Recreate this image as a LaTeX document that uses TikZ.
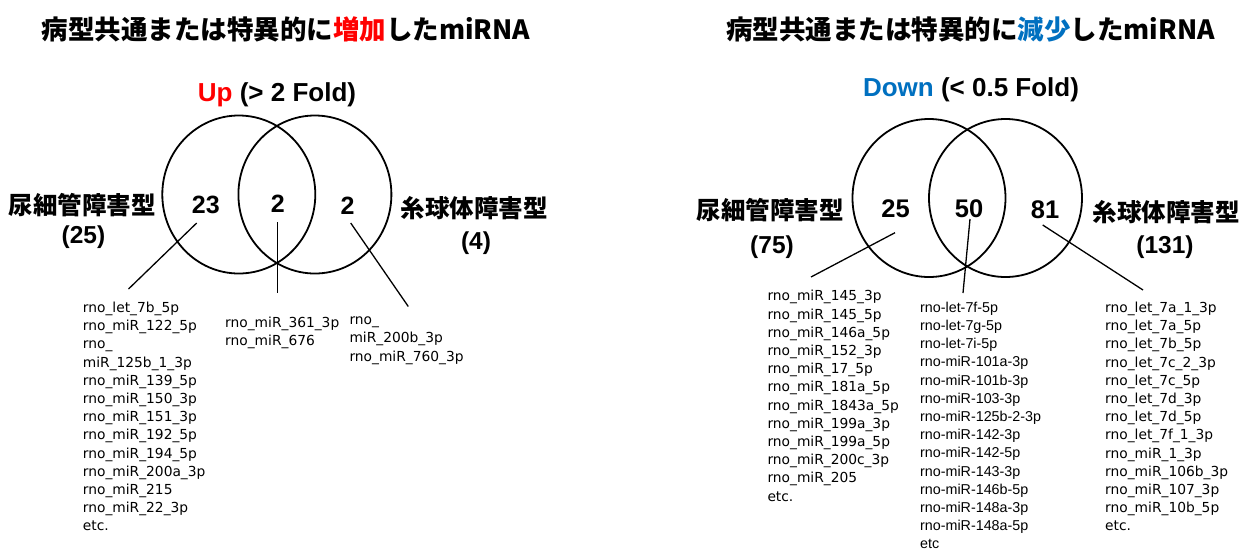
\documentclass[tikz,border=0pt]{standalone}
\usepackage{fontspec}
\setmainfont{Liberation Sans}
\newfontfamily\cjk{Noto Sans CJK JP}
\newfontfamily\lucida{DejaVu Sans}
\newfontfamily\arialf{Liberation Sans}
\definecolor{upred}{RGB}{255,0,0}
\definecolor{downblue}{RGB}{0,112,192}
\tikzset{
  titletext/.style={font=\cjk\bfseries\fontsize{26.5}{30}\selectfont, inner sep=0pt},
  grouplabel/.style={font=\cjk\bfseries\fontsize{24.5}{28}\selectfont, inner sep=0pt},
  parennum/.style={font=\bfseries\fontsize{24.5}{28}\selectfont, inner sep=0pt},
  foldtext/.style={font=\bfseries\fontsize{26}{30}\selectfont, inner sep=0pt},
  countnum/.style={font=\bfseries\fontsize{25}{30}\selectfont, inner sep=0pt},
  mirlist/.style={font=\lucida\fontsize{13.8}{18.2}\selectfont, align=left, anchor=north west, inner sep=0pt},
  mirlistb/.style={font=\arialf\fontsize{14.3}{18.2}\selectfont, align=left, anchor=north west, inner sep=0pt},
  venn/.style={line width=1.8pt},
  conn/.style={line width=1.3pt},
}
\begin{document}
\begin{tikzpicture}[x=1pt,y=-1pt]
\useasboundingbox (0,0) rectangle (1242,550);
\fill[white] (0,0) rectangle (1242,550);

% ---------- left panel ----------
\node[titletext] (titleL) at (286,29) {病型共通または特異的に{\color{upred}増加}したmiRNA};
\node[foldtext] (foldL) at (277,95) {{\color{upred}Up} (> 2 Fold)};

\coordinate (cLa) at (238.8,194.5);
\coordinate (cLb) at (314.9,194.5);
\draw[venn] (cLa) ellipse [x radius=76.5pt, y radius=79pt];
\draw[venn] (cLb) ellipse [x radius=76.5pt, y radius=79pt];

\node[countnum] (nL1) at (205.8,204.7) {23};
\node[countnum] (nL2) at (277.8,203.3) {2};
\node[countnum] (nL3) at (347.5,205.8) {2};

\node[grouplabel] (gL1) at (82.5,205) {尿細管障害型};
\node[parennum] (pL1) at (83.5,237) {(25)};
\node[grouplabel] (gL2) at (474,208) {糸球体障害型};
\node[parennum] (pL2) at (476,243) {(4)};

\coordinate (a1) at (196.7,223);
\coordinate (a1e) at (128.5,289);
\coordinate (a2) at (277.5,222);
\coordinate (a2e) at (277.5,293);
\coordinate (a3) at (350.7,223);
\coordinate (a3e) at (408.3,306.5);
\draw[conn] (a1) -- (a1e);
\draw[conn] (a2) -- (a2e);
\draw[conn] (a3) -- (a3e);

\node[mirlist] (listL1) at (82.7,301.8) {rno\_let\_7b\_5p\\
rno\_miR\_122\_5p\\
rno\_\\
miR\_125b\_1\_3p\\
rno\_miR\_139\_5p\\
rno\_miR\_150\_3p\\
rno\_miR\_151\_3p\\
rno\_miR\_192\_5p\\
rno\_miR\_194\_5p\\
rno\_miR\_200a\_3p\\
rno\_miR\_215\\
rno\_miR\_22\_3p\\
etc.};
\node[mirlist] (listL2) at (225,316.8) {rno\_miR\_361\_3p\\
rno\_miR\_676};
\node[mirlist] (listL3) at (349.3,316.8) {rno\_\\
miR\_200b\_3p\\
rno\_miR\_760\_3p};

% ---------- right panel ----------
\node[titletext] (titleR) at (970.5,29) {病型共通または特異的に{\color{downblue}減少}したmiRNA};
\node[foldtext] (foldR) at (971,90) {{\color{downblue}Down} (< 0.5 Fold)};

\coordinate (cRa) at (929,198);
\coordinate (cRb) at (1005.5,198);
\draw[venn] (cRa) ellipse [x radius=76.5pt, y radius=79pt];
\draw[venn] (cRb) ellipse [x radius=76.5pt, y radius=79pt];

\node[countnum, font=\bfseries\fontsize{25.5}{30}\selectfont] (nR1) at (895.5,209.2) {25};
\node[countnum, font=\bfseries\fontsize{25.5}{30}\selectfont] (nR2) at (969,209.2) {50};
\node[countnum, font=\bfseries\fontsize{25.5}{30}\selectfont] (nR3) at (1045,210) {81};

\node[grouplabel] (gR1) at (770,210) {尿細管障害型};
\node[parennum] (pR1) at (772,247) {(75)};
\node[grouplabel] (gR2) at (1166,212) {糸球体障害型};
\node[parennum] (pR2) at (1165,247) {(131)};

\coordinate (b1) at (895,232.7);
\coordinate (b1e) at (811,277);
\coordinate (b2) at (970,219);
\coordinate (b2e) at (963,293);
\coordinate (b3) at (1042.7,225);
\coordinate (b3e) at (1143,290);
\draw[conn] (b1) -- (b1e);
\draw[conn] (b2) -- (b2e);
\draw[conn] (b3) -- (b3e);

\node[mirlist] (listR1) at (767.3,290.2) {rno\_miR\_145\_3p\\
rno\_miR\_145\_5p\\
rno\_miR\_146a\_5p\\
rno\_miR\_152\_3p\\
rno\_miR\_17\_5p\\
rno\_miR\_181a\_5p\\
rno\_miR\_1843a\_5p\\
rno\_miR\_199a\_3p\\
rno\_miR\_199a\_5p\\
rno\_miR\_200c\_3p\\
rno\_miR\_205\\
etc.};
\node[mirlistb] (listR2) at (920,301.8) {rno-let-7f-5p\\
rno-let-7g-5p\\
rno-let-7i-5p\\
rno-miR-101a-3p\\
rno-miR-101b-3p\\
rno-miR-103-3p\\
rno-miR-125b-2-3p\\
rno-miR-142-3p\\
rno-miR-142-5p\\
rno-miR-143-3p\\
rno-miR-146b-5p\\
rno-miR-148a-3p\\
rno-miR-148a-5p\\
etc};
\node[mirlist] (listR3) at (1105,301.8) {rno\_let\_7a\_1\_3p\\
rno\_let\_7a\_5p\\
rno\_let\_7b\_5p\\
rno\_let\_7c\_2\_3p\\
rno\_let\_7c\_5p\\
rno\_let\_7d\_3p\\
rno\_let\_7d\_5p\\
rno\_let\_7f\_1\_3p\\
rno\_miR\_1\_3p\\
rno\_miR\_106b\_3p\\
rno\_miR\_107\_3p\\
rno\_miR\_10b\_5p\\
etc.};
\end{tikzpicture}
\end{document}
